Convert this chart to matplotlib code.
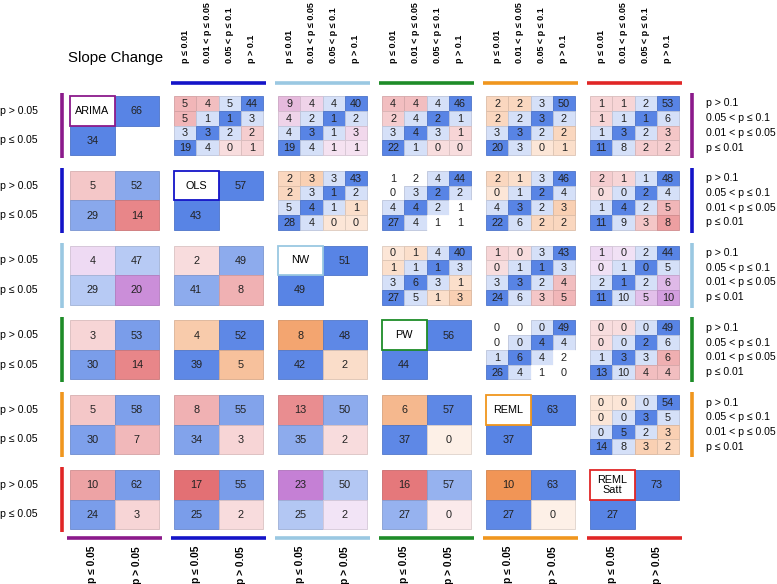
import matplotlib
matplotlib.use('Agg')
import matplotlib.pyplot as plt
from matplotlib.patches import Rectangle
from matplotlib.colors import to_rgb
import numpy as np

plt.rcParams['font.family'] = ['Liberation Sans', 'DejaVu Sans']

methods = ['ARIMA', 'OLS', 'NW', 'PW', 'REML', 'REML\nSatt']
method_colors = ['#8b1a8b', '#1414c8', '#9ac8e2', '#1e8c28', '#f0961e', '#e02626']

# slope change counts per method: p > 0.05 / p <= 0.05
slope_not_sig = [66, 57, 51, 56, 63, 73]
slope_sig = [34, 43, 49, 44, 37, 27]

# slope change 2x2 tables (row method, column method)
# rows: row method p > 0.05 / p <= 0.05 ; cols: column method p <= 0.05 / p > 0.05
slope_tables = {
    (1, 0): [[5, 52], [29, 14]],
    (2, 0): [[4, 47], [29, 20]],
    (2, 1): [[2, 49], [41, 8]],
    (3, 0): [[3, 53], [30, 14]],
    (3, 1): [[4, 52], [39, 5]],
    (3, 2): [[8, 48], [42, 2]],
    (4, 0): [[5, 58], [30, 7]],
    (4, 1): [[8, 55], [34, 3]],
    (4, 2): [[13, 50], [35, 2]],
    (4, 3): [[6, 57], [37, 0]],
    (5, 0): [[10, 62], [24, 3]],
    (5, 1): [[17, 55], [25, 2]],
    (5, 2): [[23, 50], [25, 2]],
    (5, 3): [[16, 57], [27, 0]],
    (5, 4): [[10, 63], [27, 0]],
}

# level change 4x4 tables (row method, column method)
# rows: p > 0.1, 0.05 < p <= 0.1, 0.01 < p <= 0.05, p <= 0.01
# cols: p <= 0.01, 0.01 < p <= 0.05, 0.05 < p <= 0.1, p > 0.1
level_tables = {
    (0, 1): [[5, 4, 5, 44], [5, 1, 1, 3], [3, 3, 2, 2], [19, 4, 0, 1]],
    (0, 2): [[9, 4, 4, 40], [4, 2, 1, 2], [4, 3, 1, 3], [19, 4, 1, 1]],
    (0, 3): [[4, 4, 4, 46], [2, 4, 2, 1], [3, 4, 3, 1], [22, 1, 0, 0]],
    (0, 4): [[2, 2, 3, 50], [2, 2, 3, 2], [3, 3, 2, 2], [20, 3, 0, 1]],
    (0, 5): [[1, 1, 2, 53], [1, 1, 1, 6], [1, 3, 2, 3], [11, 8, 2, 2]],
    (1, 2): [[2, 3, 3, 43], [2, 3, 1, 2], [5, 4, 1, 1], [28, 4, 0, 0]],
    (1, 3): [[1, 2, 4, 44], [0, 3, 2, 2], [4, 4, 2, 1], [27, 4, 1, 1]],
    (1, 4): [[2, 1, 3, 46], [0, 1, 2, 4], [4, 3, 2, 3], [22, 6, 2, 2]],
    (1, 5): [[2, 1, 1, 48], [0, 0, 2, 4], [1, 4, 2, 5], [11, 9, 3, 8]],
    (2, 3): [[0, 1, 4, 40], [1, 1, 1, 3], [3, 6, 3, 1], [27, 5, 1, 3]],
    (2, 4): [[1, 0, 3, 43], [0, 1, 1, 3], [3, 3, 2, 4], [24, 6, 3, 5]],
    (2, 5): [[1, 0, 2, 44], [0, 1, 0, 5], [2, 1, 2, 6], [11, 10, 5, 10]],
    (3, 4): [[0, 0, 0, 49], [0, 0, 4, 4], [1, 6, 4, 2], [26, 4, 1, 0]],
    (3, 5): [[0, 0, 0, 49], [0, 0, 2, 6], [1, 3, 3, 6], [13, 10, 4, 4]],
    (4, 5): [[0, 0, 0, 54], [0, 0, 3, 5], [0, 5, 2, 3], [14, 8, 3, 2]],
}

top_labels = ['p ≤ 0.01', '0.01 < p ≤ 0.05', '0.05 < p ≤ 0.1', 'p > 0.1']
right_labels = ['p > 0.1', '0.05 < p ≤ 0.1', '0.01 < p ≤ 0.05', 'p ≤ 0.01']
left_labels = ['p > 0.05', 'p ≤ 0.05']
bottom_labels = ['p ≤ 0.05', 'p > 0.05']

# ---- styling ----
warm_bases = {'red': '#de5458', 'orange': '#ee8238', 'purple': '#bb6acd',
              'pink': '#d488c4', 'none': '#ffffff'}
warm_gain2 = {'red': 0.042, 'orange': 0.075, 'purple': 0.032}
warm_gain4 = {'red': 0.045, 'orange': 0.06, 'purple': 0.045, 'pink': 0.042, 'none': 0}
slope_hue = {(1, 0): 'red', (2, 0): 'purple', (2, 1): 'red', (3, 0): 'red',
             (3, 1): 'orange', (3, 2): 'orange', (4, 0): 'red', (4, 1): 'red',
             (4, 2): 'red', (4, 3): 'orange', (5, 0): 'red', (5, 1): 'red',
             (5, 2): 'purple', (5, 3): 'red', (5, 4): 'orange'}
slope_blue = {(1, 0): 0.62, (2, 0): 0.38, (2, 1): 0.6, (3, 0): 0.7, (3, 1): 0.85,
              (3, 2): 0.85, (4, 0): 0.68, (4, 1): 0.66, (4, 2): 0.6, (4, 3): 0.85,
              (5, 0): 0.7, (5, 1): 0.7, (5, 2): 0.4, (5, 3): 0.55, (5, 4): 0.85}
level_hue = {(0, 1): 'red', (0, 2): 'pink', (0, 3): 'red', (0, 4): 'orange',
             (0, 5): 'red', (1, 2): 'orange', (1, 3): 'none', (1, 4): 'orange',
             (1, 5): 'red', (2, 3): 'orange', (2, 4): 'red', (2, 5): 'purple',
             (3, 4): 'none', (3, 5): 'red', (4, 5): 'orange'}
blue_base = '#4173e1'

x0, px, bw = 70, 104, 89
y0, py, bh = 96, 74.8, 59


def mix(base, t):
    b = np.array(to_rgb(base))
    return tuple(1 - t * (1 - b))


def cell(ax, x, y, w, h, color, text, fs=7.8):
    edge = tuple(np.array(color) * 0.88) if min(color) < 0.99 else 'white'
    ax.add_patch(Rectangle((x, y), w, h, facecolor=color, edgecolor=edge, lw=0.6))
    ax.text(x + w / 2, y + h / 2 + 0.5, str(text), ha='center', va='center',
            fontsize=fs, color='#222222')


fig = plt.figure(figsize=(7.77, 5.84), dpi=100)
ax = fig.add_axes([0, 0, 1, 1])
ax.set_xlim(0, 777)
ax.set_ylim(584, 0)
ax.axis('off')

n = len(methods)
for i in range(n):
    for j in range(n):
        bx = x0 + px * j
        by = y0 + py * i
        if i == j:
            cw, ch = bw / 2, bh / 2
            cell(ax, bx + cw, by, cw, ch, mix(blue_base, 0.88), slope_not_sig[i])
            cell(ax, bx, by + ch, cw, ch, mix(blue_base, 0.88), slope_sig[i])
            ax.add_patch(Rectangle((bx, by), cw, ch, facecolor='white',
                                   edgecolor=method_colors[i], lw=1.3, zorder=3))
            ax.text(bx + cw / 2, by + ch / 2, methods[i], ha='center', va='center',
                    fontsize=7.8, linespacing=1.0, zorder=4)
        elif i > j:
            tab = slope_tables[(i, j)]
            hue = slope_hue[(i, j)]
            cw, ch = bw / 2, bh / 2
            for r in range(2):
                for c in range(2):
                    v = tab[r][c]
                    agree = (r == 0 and c == 1) or (r == 1 and c == 0)
                    if agree:
                        col = mix(blue_base, slope_blue[(i, j)])
                    else:
                        col = mix(warm_bases[hue], min(0.85, 0.12 + warm_gain2[hue] * v))
                    cell(ax, bx + c * cw, by + r * ch, cw, ch, col, v)
        else:
            tab = level_tables[(i, j)]
            hue = level_hue[(i, j)]
            cw, ch = bw / 4, bh / 4
            for r in range(4):
                for c in range(4):
                    v = tab[r][c]
                    d = abs(r + c - 3)
                    if d == 0:
                        col = mix(blue_base, 0.88)
                    elif d == 1:
                        col = mix(blue_base, 0.22)
                    else:
                        t = 0 if hue == 'none' else min(0.85, 0.2 + warm_gain4[hue] * v)
                        col = mix(warm_bases[hue], t)
                    cell(ax, bx + c * cw, by + r * ch, cw, ch, col, v)

# colour bars
for i in range(n):
    by = y0 + py * i
    ax.plot([62, 62], [by - 3, by + bh + 3], color=method_colors[i], lw=2.6,
            solid_capstyle='butt')
    if i < n - 1:
        ax.plot([692, 692], [by - 3, by + bh + 3], color=method_colors[i], lw=2.6,
                solid_capstyle='butt')
        for k, lab in enumerate(right_labels):
            ax.text(706, by + bh / 8 + k * bh / 4, lab, ha='left', va='center', fontsize=7.6)
    for k, lab in enumerate(left_labels):
        ax.text(0, by + bh / 4 + k * bh / 2, lab, ha='left', va='center', fontsize=7.6)

for j in range(n):
    bx = x0 + px * j
    ax.plot([bx - 3, bx + bw + 3], [538, 538], color=method_colors[j], lw=2.6,
            solid_capstyle='butt')
    for k, lab in enumerate(bottom_labels):
        ax.text(bx + bw / 4 + k * bw / 2, 546, lab, rotation=90, ha='center', va='top',
                fontsize=7.4, fontweight='bold')
    if j > 0:
        ax.plot([bx - 3, bx + bw + 3], [83, 83], color=method_colors[j], lw=2.6,
                solid_capstyle='butt')
        for k, lab in enumerate(top_labels):
            ax.text(bx + bw / 8 + k * bw / 4, 63, lab, rotation=90, ha='center',
                    va='bottom', fontsize=6.5, fontweight='bold')

ax.text(x0 + bw / 2 + 1, 58, 'Slope Change', ha='center', va='center', fontsize=10.8)

fig.savefig('out.png', dpi=100)
